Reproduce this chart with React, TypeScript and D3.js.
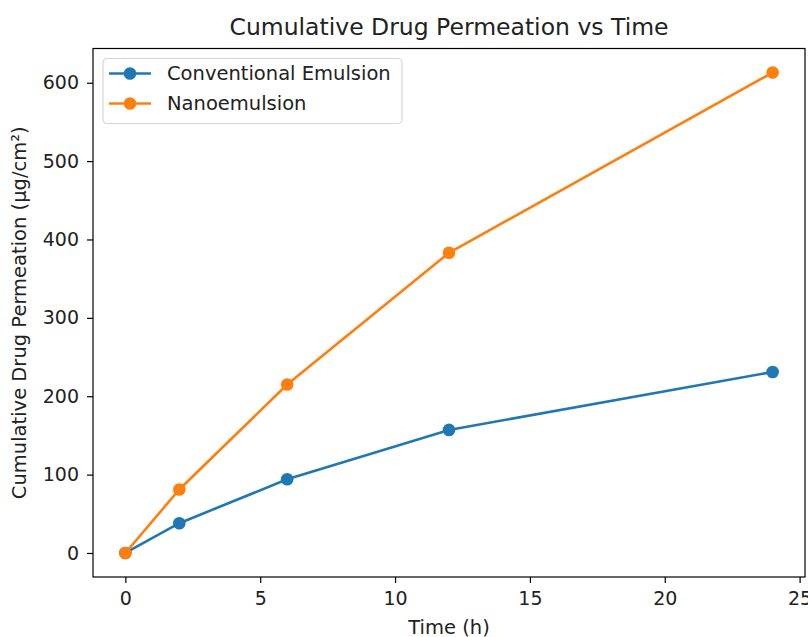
import React, { useEffect, useRef } from 'react';
import * as d3 from 'd3';

// time points (h)
const times = [0, 2, 6, 12, 24];
// cumulative permeation (µg/cm²)
const conventional = [0, 38, 94, 157, 231];
const nano = [0, 81, 215, 383, 613];

const seriesNames = ['Conventional Emulsion', 'Nanoemulsion'];
const seriesColors = ['#1f77b4', '#ff7f0e'];
const xTicks = [0, 5, 10, 15, 20, 25];
const yTicks = [0, 100, 200, 300, 400, 500, 600];

const width = 808;
const height = 637;
const margin = { top: 48.5, right: 3, bottom: 60, left: 93 };
const font = '"DejaVu Sans", sans-serif';

const App = () => {
    const svgRef = useRef(null);

    useEffect(() => {
        document.body.style.margin = '0';
        const svg = d3.select(svgRef.current);
        svg.selectAll('*').remove();

        const innerW = width - margin.left - margin.right;
        const innerH = height - margin.top - margin.bottom;

        // matplotlib style 5% padding around the data
        const xPad = (24 - 0) * 0.05;
        const yMax = d3.max(nano);
        const yPad = yMax * 0.05;

        const x = d3.scaleLinear().domain([0 - xPad, 24 + xPad]).range([0, innerW]);
        const y = d3.scaleLinear().domain([0 - yPad, yMax + yPad]).range([innerH, 0]);

        const g = svg.append('g')
            .attr('transform', `translate(${margin.left}, ${margin.top})`);

        // Axes
        const xAxis = g.append('g')
            .attr('transform', `translate(0, ${innerH})`)
            .call(d3.axisBottom(x).tickValues(xTicks).tickSize(6).tickPadding(9).tickFormat(d3.format('d')));
        const yAxis = g.append('g')
            .call(d3.axisLeft(y).tickValues(yTicks).tickSize(6).tickPadding(8).tickFormat(d3.format('d')));

        [xAxis, yAxis].forEach(a => {
            a.select('.domain').remove();
            a.selectAll('line').attr('stroke', '#000').attr('stroke-width', 1.2);
            a.selectAll('text')
                .style('font-family', font)
                .style('font-size', '19px')
                .attr('fill', '#222');
        });

        // Frame
        g.append('rect')
            .attr('width', innerW)
            .attr('height', innerH)
            .attr('fill', 'none')
            .attr('stroke', '#000')
            .attr('stroke-width', 1.2);

        // Lines + markers
        const allSeries = [conventional, nano];
        const line = d3.line()
            .x((d, i) => x(times[i]))
            .y(d => y(d));

        allSeries.forEach((vals, s) => {
            g.append('path')
                .datum(vals)
                .attr('d', line)
                .attr('fill', 'none')
                .attr('stroke', seriesColors[s])
                .attr('stroke-width', 2.6);
            g.selectAll(`.pt-${s}`)
                .data(vals)
                .enter().append('circle')
                .attr('cx', (d, i) => x(times[i]))
                .attr('cy', d => y(d))
                .attr('r', 6.3)
                .attr('fill', seriesColors[s]);
        });

        // Legend
        const legend = g.append('g').attr('transform', 'translate(10, 10)');
        legend.append('rect')
            .attr('width', 299)
            .attr('height', 65)
            .attr('rx', 4)
            .attr('fill', '#fff')
            .attr('fill-opacity', 0.8)
            .attr('stroke', '#d6d6d6')
            .attr('stroke-width', 1.2);
        seriesNames.forEach((name, i) => {
            const row = legend.append('g').attr('transform', `translate(0, ${15 + i * 30})`);
            row.append('line')
                .attr('x1', 6).attr('x2', 48)
                .attr('y1', 0).attr('y2', 0)
                .attr('stroke', seriesColors[i])
                .attr('stroke-width', 2.6);
            row.append('circle')
                .attr('cx', 27).attr('cy', 0).attr('r', 6.3)
                .attr('fill', seriesColors[i]);
            row.append('text')
                .attr('x', 64)
                .attr('y', 0)
                .attr('dy', '.35em')
                .style('font-family', font)
                .style('font-size', '19.5px')
                .attr('fill', '#222')
                .text(name);
        });

        // Title and axis labels
        svg.append('text')
            .attr('x', margin.left + innerW / 2)
            .attr('y', 27)
            .attr('dy', '.35em')
            .attr('text-anchor', 'middle')
            .style('font-family', font)
            .style('font-size', '23.5px')
            .attr('fill', '#222')
            .text('Cumulative Drug Permeation vs Time');

        svg.append('text')
            .attr('x', margin.left + innerW / 2)
            .attr('y', 627)
            .attr('dy', '.35em')
            .attr('text-anchor', 'middle')
            .style('font-family', font)
            .style('font-size', '19.5px')
            .attr('fill', '#222')
            .text('Time (h)');

        svg.append('text')
            .attr('transform', `translate(19, ${margin.top + innerH / 2}) rotate(-90)`)
            .attr('dy', '.35em')
            .attr('text-anchor', 'middle')
            .style('font-family', font)
            .style('font-size', '19.5px')
            .attr('fill', '#222')
            .text('Cumulative Drug Permeation (µg/cm²)');
    }, []);

    return (
        <svg ref={svgRef} width={width} height={height} style={{ display: 'block', background: '#fff' }}></svg>
    );
};

export default App;
